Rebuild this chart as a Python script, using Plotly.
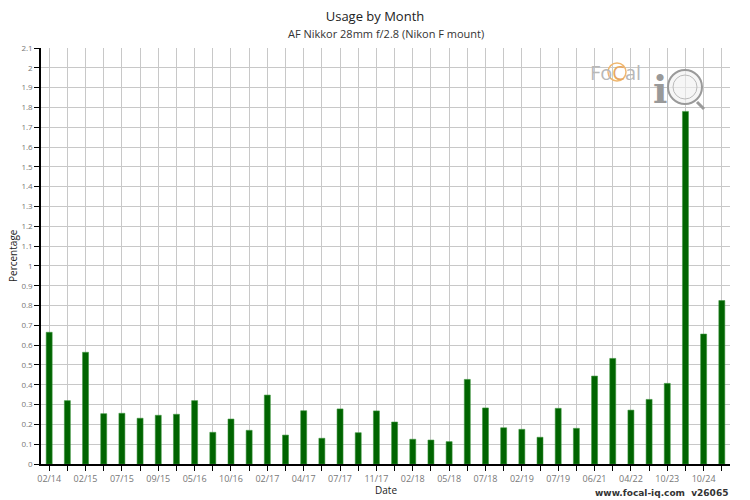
import plotly.graph_objects as go

# ---- data ----
tick_labels = ["02/14", "02/15", "07/15", "09/15", "05/16", "10/16", "02/17", "04/17",
               "07/17", "11/17", "02/18", "05/18", "07/18", "02/19", "07/19", "06/21",
               "04/22", "10/23", "10/24"]
usage = [0.665, 0.32, 0.564, 0.254, 0.256, 0.231, 0.246, 0.251, 0.32, 0.16,
         0.227, 0.17, 0.348, 0.146, 0.269, 0.13, 0.278, 0.158, 0.268, 0.212,
         0.125, 0.121, 0.113, 0.427, 0.283, 0.183, 0.175, 0.135, 0.281, 0.18,
         0.444, 0.533, 0.272, 0.326, 0.407, 1.78, 0.656, 0.825]

idx = list(range(len(usage)))
tickvals = idx
ticktext = [tick_labels[i // 2] if i % 2 == 0 else "" for i in idx]

FONT = "Open Sans"
L, R, T, B = 41, 20, 48, 36
W, H = 750, 500
PW, PH = W - L - R, H - T - B

def px(x):
    return (x - L) / PW

def py(y):
    return (H - B - y) / PH

fig = go.Figure()
fig.add_trace(go.Bar(
    x=idx, y=usage, width=0.33,
    marker=dict(color="#006400", line=dict(color="rgba(60,150,60,0.55)", width=1)),
    hoverinfo="y",
))

shapes = [
    # magnifier glass
    dict(type="circle", xref="paper", yref="paper", x0=px(668), x1=px(702), y0=py(104), y1=py(70),
         line=dict(color="#9a9a9a", width=2), fillcolor="rgba(240,240,240,0.6)", layer="above"),
    dict(type="circle", xref="paper", yref="paper", x0=px(673), x1=px(697), y0=py(99), y1=py(75),
         line=dict(color="#bbbbbb", width=1), layer="above"),
    dict(type="line", xref="paper", yref="paper", x0=px(697), x1=px(704), y0=py(102), y1=py(109),
         line=dict(color="#9a9a9a", width=3), layer="above"),
    # orange ring around C
    dict(type="circle", xref="paper", yref="paper", x0=px(608), x1=px(626), y0=py(81), y1=py(63),
         line=dict(color="#f0b870", width=1.5), layer="above"),
]

annotations = [
    dict(text="AF Nikkor 28mm f/2.8 (Nikon F mount)", x=0.5, xref="paper", y=py(33), yref="paper",
         showarrow=False, font=dict(family=FONT, size=11, color="#333"), yanchor="middle"),
    dict(text="<b>www.focal-iq.com  v26065</b>", x=1.0, xref="paper", xanchor="right",
         y=py(493), yref="paper", yanchor="middle", showarrow=False,
         font=dict(family="DejaVu Sans", size=9, color="#333")),
    dict(text="Fo<span style='color:#e8a860'>C</span>al", x=px(615), xref="paper", xanchor="center",
         y=py(72), yref="paper", yanchor="middle",
         showarrow=False, font=dict(family=FONT, size=20, color="#b8b8b8")),
    dict(text="<b>i</b>", x=px(660), xref="paper", xanchor="center", y=py(89), yref="paper",
         showarrow=False, font=dict(family="DejaVu Serif", size=38, color="#999"), yanchor="middle"),
    dict(text="Percentage", textangle=-90, x=px(13), xref="paper", y=0.5, yref="paper",
         showarrow=False, font=dict(family=FONT, size=10, color="#222"), xanchor="center", yanchor="middle"),
    dict(text="Date", x=0.5, xref="paper", y=py(490), yref="paper",
         showarrow=False, font=dict(family=FONT, size=10, color="#222"), yanchor="middle"),
]

fig.update_layout(
    width=W, height=H,
    margin=dict(l=L, r=R, t=T, b=B, autoexpand=False),
    paper_bgcolor="white", plot_bgcolor="white",
    showlegend=False,
    title=dict(text="Usage by Month", x=0.5, xanchor="center", y=1 - 16 / H, yanchor="middle",
               font=dict(family=FONT, size=13, color="#222")),
    font=dict(family=FONT),
    xaxis=dict(
        range=[-0.45, len(usage) - 0.55],
        tickmode="array", tickvals=tickvals, ticktext=ticktext,
        ticks="outside", ticklen=5, tickcolor="black", tickwidth=1,
        tickfont=dict(family=FONT, size=9, color="#777"),
        showline=True, linecolor="black", linewidth=1.5,
        showgrid=True, gridcolor="#c8c8c8", gridwidth=1,
        automargin=False,
        fixedrange=True,
    ),
    yaxis=dict(
        range=[0, 2.1], dtick=0.1, tick0=0,
        ticks="outside", ticklen=5, tickcolor="black", tickwidth=1,
        tickfont=dict(family=FONT, size=8, color="#777"),
        showline=True, linecolor="black", linewidth=1.5,
        showgrid=True, gridcolor="#c8c8c8", gridwidth=1,
        zeroline=False,
        automargin=False,
        fixedrange=True,
    ),
    shapes=shapes,
    annotations=annotations,
)

fig.write_html("out.html", config={"displayModeBar": False},
               post_script="document.body.style.margin='0';document.body.style.padding='0';")
